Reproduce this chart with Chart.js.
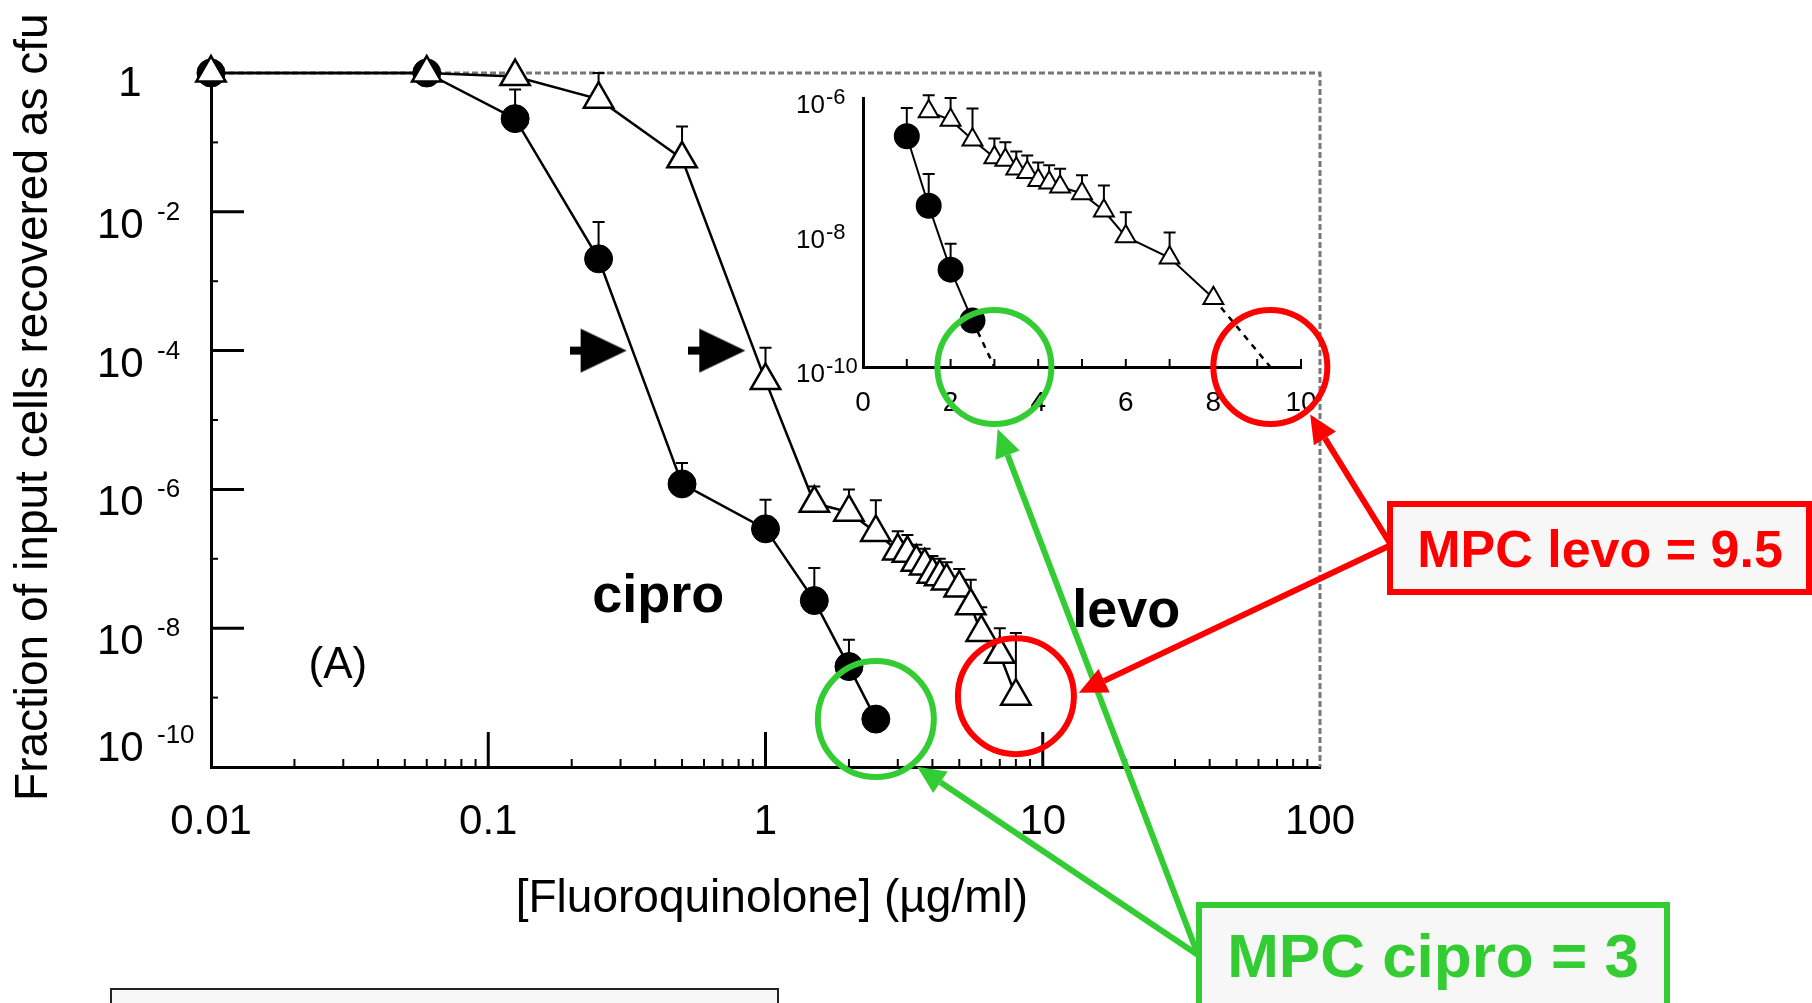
<!DOCTYPE html>
<html lang="en">
<head>
<meta charset="utf-8">
<title>MPC cipro / levo</title>
<script src="https://cdn.jsdelivr.net/npm/chart.js@4.4.1/dist/chart.umd.min.js"></script>
<style>
  html, body { margin: 0; padding: 0; background: #fff; }
  #stage { position: relative; width: 1812px; height: 1003px; overflow: hidden; }
  #stage canvas { position: absolute; left: 0; top: 0; }
</style>
</head>
<body>
<div id="stage">
  <canvas id="mainChart" width="1812" height="1003"></canvas>
  <canvas id="insetChart" width="1812" height="1003"></canvas>
</div>
<script>
// values (concentration in ug/ml, fraction recovered)
const ciproConc  = [0.01, 0.06, 0.125, 0.25, 0.5, 1, 1.5, 2, 2.5];
const ciproFrac  = [1, 1, 2.2e-1, 2.1e-3, 1.2e-6, 2.7e-7, 2.5e-8, 2.8e-9, 4.9e-10];
const ciproErrHi = [null, null, 5.8e-1, 7.1e-3, 2.4e-6, 7.1e-7, 7.4e-8, 6.8e-9, null];

const levoConc  = [0.01, 0.06, 0.125, 0.25, 0.5, 1, 1.5, 2, 2.5, 3, 3.25, 3.5, 3.75, 4, 4.25, 4.5, 5, 5.5, 6, 7, 8];
const levoFrac  = [1, 1, 8.9e-1, 4.2e-1, 5.8e-2, 3.7e-5, 6.3e-7, 4.7e-7, 2.4e-7, 1.3e-7, 1.2e-7, 8.9e-8, 7.9e-8,
                   6.0e-8, 5.5e-8, 4.8e-8, 3.8e-8, 2.1e-8, 8.7e-9, 4.2e-9, 1.05e-9];
const levoErrHi = [null, null, null, 1, 1.7e-1, 1.1e-4, 1.1e-6, 1.0e-6, 7.0e-7, 2.5e-7, 2.2e-7, 1.6e-7, 1.4e-7,
                   1.1e-7, 1.0e-7, 8.9e-8, 7.1e-8, 5.0e-8, 2.0e-8, 1.0e-8, 8.5e-9];

// dashed extrapolation down to 1e-10 in the inset
const ciproTailConc = [2.5, 3];
const ciproTailFrac = [4.9e-10, 1e-10];
const levoTailConc  = [8, 9.3];
const levoTailFrac  = [1.05e-9, 1e-10];

// the two black arrow heads at 10^-4
const arrowConc = [0.25, 0.67];
const arrowFrac = [1e-4, 1e-4];

// tick labels
const xTickVals   = [0.01, 0.1, 1, 10, 100];
const xTickLabels = ['0.01', '0.1', '1', '10', '100'];
const yTickVals   = [1, 1e-2, 1e-4, 1e-6, 1e-8, 1e-10];
const yTickExp    = ['', '-2', '-4', '-6', '-8', '-10'];
const insetXTicks = [0, 2, 4, 6, 8, 10];
const insetYTicks = [1e-6, 1e-8, 1e-10];
const insetYExp   = ['-6', '-8', '-10'];

const mpcLabels = ['MPC cipro = 3', 'MPC levo = 9.5'];

const FONT = '"Liberation Sans", Arial, Helvetica, sans-serif';
const GREEN = '#33cc33';
const RED = '#ff0000';

Chart.defaults.font.family = FONT;
Chart.defaults.color = '#000';

function pts(xs, ys) {
    return xs.map((x, i) => ({ x: x, y: ys[i] }));
}

// inset only shows the part >= 1 ug/ml and below 1e-6
function insetIdx(xs, ys) {
    return xs.map((x, i) => i).filter(i => xs[i] >= 1 && ys[i] <= 1e-6);
}

function makeArrowImage() {
    const c = document.createElement('canvas');
    c.width = 58; c.height = 46;
    const g = c.getContext('2d');
    g.fillStyle = '#000';
    g.fillRect(0, 19, 14, 8);
    g.beginPath();
    g.moveTo(11, 1); g.lineTo(57, 23); g.lineTo(11, 45);
    g.closePath();
    g.fill();
    return c;
}

// error bars (upper side only), drawn under the markers
const errorBars = {
    id: 'errorBars',
    beforeDatasetsDraw(chart) {
        const ctx = chart.ctx;
        const ys = chart.scales.y;
        ctx.save();
        ctx.strokeStyle = '#000';
        ctx.lineWidth = 2;
        chart.data.datasets.forEach((ds, di) => {
            if (!ds.errHi) return;
            const meta = chart.getDatasetMeta(di);
            ds.errHi.forEach((hi, i) => {
                if (hi == null) return;
                const p = meta.data[i];
                const top = ys.getPixelForValue(hi);
                ctx.beginPath();
                ctx.moveTo(p.x, p.y);
                ctx.lineTo(p.x, top);
                ctx.moveTo(p.x - 6, top);
                ctx.lineTo(p.x + 6, top);
                ctx.stroke();
            });
        });
        ctx.restore();
    }
};

// frame, inward ticks, y labels with exponents and the text notes
const mainDeco = {
    id: 'mainDeco',
    beforeDatasetsDraw(chart) {
        const { ctx, chartArea: a, scales: { x, y } } = chart;
        ctx.save();
        ctx.strokeStyle = '#777';
        ctx.lineWidth = 3;
        ctx.setLineDash([6, 3]);
        ctx.beginPath();
        ctx.moveTo(a.left, a.top);
        ctx.lineTo(a.right, a.top);
        ctx.lineTo(a.right, a.bottom);
        ctx.stroke();
        ctx.setLineDash([]);
        ctx.strokeStyle = '#000';

        const d0 = Math.round(Math.log10(x.min)), d1 = Math.round(Math.log10(x.max));
        for (let d = d0; d < d1; d++) {
            for (let k = 1; k <= 9; k++) {
                if (d === d0 && k === 1) continue;
                const px = x.getPixelForValue(k * Math.pow(10, d));
                ctx.lineWidth = k === 1 ? 3 : 2;
                ctx.beginPath();
                ctx.moveTo(px, a.bottom);
                ctx.lineTo(px, a.bottom - (k === 1 ? 35 : 8));
                ctx.stroke();
            }
        }
        const e0 = Math.round(Math.log10(y.min)), e1 = Math.round(Math.log10(y.max));
        for (let e = e0 + 1; e < e1; e++) {
            const py = y.getPixelForValue(Math.pow(10, e));
            const major = e % 2 === 0;
            ctx.lineWidth = major ? 3 : 2;
            ctx.beginPath();
            ctx.moveTo(a.left, py);
            ctx.lineTo(a.left + (major ? 33 : 7), py);
            ctx.stroke();
        }
        ctx.restore();
    },
    afterDraw(chart) {
        const { ctx, scales: { x, y } } = chart;
        ctx.save();
        ctx.fillStyle = '#000';
        ctx.textBaseline = 'alphabetic';
        yTickVals.forEach((v, i) => {
            const py = y.getPixelForValue(v);
            if (!yTickExp[i]) {
                ctx.font = '42px ' + FONT;
                ctx.textAlign = 'center';
                ctx.fillText('1', 130, py + 23);
                return;
            }
            const base = i === yTickVals.length - 1 ? py - 6 : py + 26;
            ctx.textAlign = 'left';
            ctx.font = '42px ' + FONT;
            ctx.fillText('10', 97, base);
            ctx.font = '26px ' + FONT;
            ctx.fillText(yTickExp[i], 157, base - 18);
        });

        // labels placed in data space
        const notes = [
            { t: 'cipro', x: 0.41, y: 1.7e-8, font: 'bold 54px ' },
            { t: 'levo', x: 20, y: 1.05e-8, font: 'bold 54px ' },
            { t: '(A)', x: 0.0287, y: 1.9e-9, font: '44px ' }
        ];
        ctx.textAlign = 'center';
        notes.forEach(n => {
            ctx.font = n.font + FONT;
            ctx.fillText(n.t, x.getPixelForValue(n.x), y.getPixelForValue(n.y));
        });
        ctx.restore();
    }
};

const mainChart = new Chart(document.getElementById('mainChart'), {
    type: 'scatter',
    data: {
        datasets: [{
            label: 'levo',
            data: pts(levoConc, levoFrac),
            errHi: levoErrHi,
            showLine: true,
            borderColor: '#000',
            borderWidth: 2.5,
            pointStyle: 'triangle',
            pointRadius: 17,
            pointBackgroundColor: '#fff',
            pointBorderColor: '#000',
            pointBorderWidth: 2.5,
            clip: false
        }, {
            label: 'cipro',
            data: pts(ciproConc, ciproFrac),
            errHi: ciproErrHi,
            showLine: true,
            borderColor: '#000',
            borderWidth: 2.5,
            pointStyle: 'circle',
            pointRadius: 14,
            pointBackgroundColor: '#000',
            pointBorderColor: '#000',
            pointBorderWidth: 1,
            clip: false
        }, {
            label: 'arrows',
            data: pts(arrowConc, arrowFrac),
            showLine: false,
            pointStyle: makeArrowImage(),
            pointRadius: 20,
            clip: false
        }]
    },
    options: {
        responsive: false,
        animation: false,
        devicePixelRatio: 1,
        layout: { padding: { left: 0, top: 73, right: 492, bottom: 0 } },
        plugins: { legend: { display: false }, tooltip: { enabled: false } },
        scales: {
            x: {
                type: 'logarithmic',
                min: 0.01,
                max: 100,
                afterFit: s => { s.height = 236; },
                afterBuildTicks: s => { s.ticks = xTickVals.map(v => ({ value: v })); },
                grid: { display: false, drawTicks: false },
                border: { display: true, color: '#000', width: 3 },
                ticks: {
                    autoSkip: false,
                    maxRotation: 0,
                    minRotation: 0,
                    padding: 30,
                    font: { size: 42 },
                    color: '#000',
                    callback: (v, i) => xTickLabels[i]
                },
                title: {
                    display: true,
                    text: ' [Fluoroquinolone] (\u00b5g/ml)',
                    font: { size: 46 },
                    color: '#000',
                    padding: { top: 0, bottom: 76 }
                }
            },
            y: {
                type: 'logarithmic',
                min: 1e-10,
                max: 1,
                afterFit: s => { s.width = 211; },
                afterBuildTicks: s => { s.ticks = yTickVals.map(v => ({ value: v })); },
                grid: { display: false, drawTicks: false },
                border: { display: true, color: '#000', width: 3 },
                ticks: { display: false },
                title: {
                    display: true,
                    text: '  Fraction of input cells recovered as cfu',
                    font: { size: 46 },
                    color: '#000',
                    padding: { top: 7, bottom: 0 }
                }
            }
        }
    },
    plugins: [mainDeco, errorBars]
});

// ---- inset (linear x) ----
const ci = insetIdx(ciproConc, ciproFrac);
const li = insetIdx(levoConc, levoFrac);
// the inset has no bar on its last levo point
const insetLevoErr = li.map((i, k) => (k === li.length - 1 ? null : levoErrHi[i]));

function ring(ctx, cx, cy, r, color) {
    ctx.strokeStyle = color;
    ctx.lineWidth = 6;
    ctx.beginPath();
    ctx.arc(cx, cy, r, 0, Math.PI * 2);
    ctx.stroke();
}

function arrowTo(ctx, x0, y0, x1, y1, color) {
    const a = Math.atan2(y1 - y0, x1 - x0);
    const L = 28, W = 13;
    const bx = x1 - L * Math.cos(a), by = y1 - L * Math.sin(a);
    ctx.strokeStyle = color;
    ctx.fillStyle = color;
    ctx.lineWidth = 6;
    ctx.beginPath();
    ctx.moveTo(x0, y0);
    ctx.lineTo(bx, by);
    ctx.stroke();
    ctx.beginPath();
    ctx.moveTo(x1, y1);
    ctx.lineTo(bx + W * Math.sin(a), by - W * Math.cos(a));
    ctx.lineTo(bx - W * Math.sin(a), by + W * Math.cos(a));
    ctx.closePath();
    ctx.fill();
}

function labelBox(ctx, x, y, w, h, color, lw) {
    ctx.fillStyle = '#f7f7f7';
    ctx.fillRect(x, y, w, h);
    ctx.strokeStyle = color;
    ctx.lineWidth = lw;
    ctx.strokeRect(x + lw / 2, y + lw / 2, w - lw, h - lw);
}

const insetDeco = {
    id: 'insetDeco',
    beforeDatasetsDraw(chart) {
        const { ctx, chartArea: a, scales: { x } } = chart;
        ctx.save();
        ctx.strokeStyle = '#000';
        ctx.lineWidth = 2;
        for (let v = x.min + 1; v <= x.max; v++) {
            const px = x.getPixelForValue(v);
            ctx.beginPath();
            ctx.moveTo(px, a.bottom);
            ctx.lineTo(px, a.bottom - 8);
            ctx.stroke();
        }
        ctx.restore();
    },
    afterDraw(chart) {
        const { ctx, scales: { x, y } } = chart;
        ctx.save();
        ctx.fillStyle = '#000';
        ctx.textAlign = 'left';
        insetYTicks.forEach((v, i) => {
            const py = y.getPixelForValue(v);
            ctx.font = '26px ' + FONT;
            ctx.fillText('10', 796, py + 15);
            ctx.font = '22px ' + FONT;
            ctx.fillText(insetYExp[i], 826, py + 6);
        });

        // rings around the end points and the MPC read-outs
        const mx = mainChart.scales.x, my = mainChart.scales.y;
        const greenFrom = [1198, 955], redFrom = [1391, 545];
        const rings = [
            { cx: mx.getPixelForValue(ciproConc.at(-1)), cy: my.getPixelForValue(ciproFrac.at(-1)), r: 58, color: GREEN, deg: 49, from: greenFrom },
            { cx: x.getPixelForValue(ciproTailConc.at(-1)), cy: y.getPixelForValue(ciproTailFrac.at(-1)), r: 57, color: GREEN, deg: 87, from: greenFrom },
            { cx: mx.getPixelForValue(levoConc.at(-1)), cy: my.getPixelForValue(levoFrac.at(-1)), r: 58, color: RED, deg: -3, from: redFrom },
            { cx: x.getPixelForValue(levoTailConc.at(-1)), cy: y.getPixelForValue(levoTailFrac.at(-1)), r: 57, color: RED, deg: 50, from: redFrom }
        ];
        rings.forEach(r => ring(ctx, r.cx, r.cy, r.r, r.color));
        rings.forEach(r => {
            const t = r.deg * Math.PI / 180;
            arrowTo(ctx, r.from[0], r.from[1], r.cx + (r.r + 5) * Math.cos(t), r.cy + (r.r + 5) * Math.sin(t), r.color);
        });

        labelBox(ctx, 1196, 902, 474, 130, GREEN, 6);
        labelBox(ctx, 1387, 501, 425, 94, RED, 6);
        labelBox(ctx, 110, 988, 669, 40, '#222', 2);

        ctx.textAlign = 'center';
        ctx.font = 'bold 62px ' + FONT;
        ctx.fillStyle = GREEN;
        ctx.fillText(mpcLabels[0], 1433, 977);
        ctx.font = 'bold 52px ' + FONT;
        ctx.fillStyle = RED;
        ctx.fillText(mpcLabels[1], 1600, 567);
        ctx.restore();
    }
};

const insetChart = new Chart(document.getElementById('insetChart'), {
    type: 'scatter',
    data: {
        datasets: [{
            label: 'levo',
            data: li.map(i => ({ x: levoConc[i], y: levoFrac[i] })),
            errHi: insetLevoErr,
            showLine: true,
            borderColor: '#000',
            borderWidth: 2,
            pointStyle: 'triangle',
            pointRadius: 11.5,
            pointBackgroundColor: '#fff',
            pointBorderColor: '#000',
            pointBorderWidth: 2,
            clip: false
        }, {
            label: 'cipro',
            data: ci.map(i => ({ x: ciproConc[i], y: ciproFrac[i] })),
            errHi: ci.map(i => ciproErrHi[i]),
            showLine: true,
            borderColor: '#000',
            borderWidth: 2,
            pointStyle: 'circle',
            pointRadius: 12,
            pointBackgroundColor: '#000',
            pointBorderColor: '#000',
            clip: false
        }, {
            label: 'cipro tail',
            data: pts(ciproTailConc, ciproTailFrac),
            showLine: true,
            borderColor: '#000',
            borderWidth: 2.5,
            borderDash: [6, 6],
            pointRadius: 0,
            clip: false
        }, {
            label: 'levo tail',
            data: pts(levoTailConc, levoTailFrac),
            showLine: true,
            borderColor: '#000',
            borderWidth: 2.5,
            borderDash: [6, 6],
            pointRadius: 0,
            clip: false
        }]
    },
    options: {
        responsive: false,
        animation: false,
        devicePixelRatio: 1,
        layout: { padding: { left: 0, top: 98, right: 511, bottom: 0 } },
        plugins: { legend: { display: false }, tooltip: { enabled: false } },
        scales: {
            x: {
                type: 'linear',
                min: 0,
                max: 10,
                afterFit: s => { s.height = 636; },
                afterBuildTicks: s => { s.ticks = insetXTicks.map(v => ({ value: v })); },
                grid: { display: false, drawTicks: false },
                border: { display: true, color: '#000', width: 3 },
                ticks: { autoSkip: false, maxRotation: 0, padding: 19, font: { size: 28 }, color: '#000' }
            },
            y: {
                type: 'logarithmic',
                min: 1e-10,
                max: 1e-6,
                afterFit: s => { s.width = 863; },
                afterBuildTicks: s => { s.ticks = insetYTicks.map(v => ({ value: v })); },
                grid: { display: false, drawTicks: false },
                border: { display: true, color: '#000', width: 3 },
                ticks: { display: false }
            }
        }
    },
    plugins: [insetDeco, errorBars]
});
</script>
</body>
</html>
